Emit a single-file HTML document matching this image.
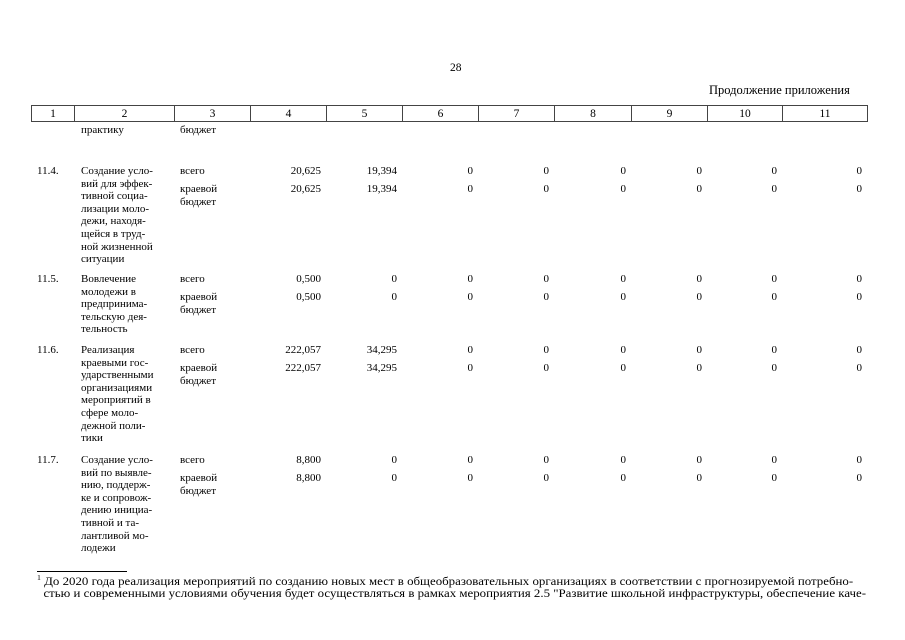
<!DOCTYPE html>
<html><head><meta charset="utf-8"><style>
body{margin:0;width:905px;height:640px;background:#fff;position:relative;font-family:"Liberation Serif","DejaVu Serif",serif;font-size:11px;color:#000;overflow:hidden}
.a{position:absolute;line-height:12.6px;white-space:nowrap}
.r{text-align:right}
table{position:absolute;left:31px;top:105px;border-collapse:collapse;height:17px}
td{border:1px solid #444;text-align:center;padding:0;font-size:11.5px;line-height:14px}
</style></head><body>
<div class="a" style="left:450px;top:62px;font-size:11.5px">28</div>
<div class="a" style="left:709px;top:84px;font-size:12.5px">Продолжение приложения</div>
<table><tr>
<td style="width:42px">1</td><td style="width:99px">2</td><td style="width:75px">3</td><td style="width:75px">4</td><td style="width:75px">5</td><td style="width:75px">6</td><td style="width:75px">7</td><td style="width:76px">8</td><td style="width:75px">9</td><td style="width:74px">10</td><td style="width:84px">11</td>
</tr></table>
<div class="a" style="left:81px;top:124px">практику</div>
<div class="a" style="left:180px;top:124px">бюджет</div>

<div id="rows"></div>
<div class="a" style="left:37px;top:165px">11.4.</div>
<div class="a" style="left:81px;top:165px">Создание усло-<br>вий для эффек-<br>тивной социа-<br>лизации моло-<br>дежи, находя-<br>щейся в труд-<br>ной жизненной<br>ситуации</div>
<div class="a" style="left:180px;top:165px">всего</div>
<div class="a" style="left:180px;top:183px">краевой<br>бюджет</div>

<div class="a" style="left:37px;top:273px">11.5.</div>
<div class="a" style="left:81px;top:273px">Вовлечение<br>молодежи в<br>предпринима-<br>тельскую дея-<br>тельность</div>
<div class="a" style="left:180px;top:273px">всего</div>
<div class="a" style="left:180px;top:291px">краевой<br>бюджет</div>

<div class="a" style="left:37px;top:344px">11.6.</div>
<div class="a" style="left:81px;top:344px">Реализация<br>краевыми гос-<br>ударственными<br>организациями<br>мероприятий в<br>сфере моло-<br>дежной поли-<br>тики</div>
<div class="a" style="left:180px;top:344px">всего</div>
<div class="a" style="left:180px;top:362px">краевой<br>бюджет</div>

<div class="a" style="left:37px;top:454px">11.7.</div>
<div class="a" style="left:81px;top:454px">Создание усло-<br>вий по выявле-<br>нию, поддерж-<br>ке и сопровож-<br>дению инициа-<br>тивной и та-<br>лантливой мо-<br>лодежи</div>
<div class="a" style="left:180px;top:454px">всего</div>
<div class="a" style="left:180px;top:472px">краевой<br>бюджет</div>

<script>
var rows=[[165,"20,625","19,394"],[183,"20,625","19,394"],[273,"0,500","0"],[291,"0,500","0"],[344,"222,057","34,295"],[362,"222,057","34,295"],[454,"8,800","0"],[472,"8,800","0"]];
var rights=[321,397,473,549,626,702,777,862];
var h="";
rows.forEach(function(r){
 var vals=[r[1],r[2],"0","0","0","0","0","0"];
 vals.forEach(function(v,i){h+='<div class="a r" style="left:'+(rights[i]-80)+'px;width:80px;top:'+r[0]+'px">'+v+'</div>';});
});
document.getElementById("rows").innerHTML=h;
</script>

<div style="position:absolute;left:37px;top:571px;width:90px;height:1px;background:#000"></div>
<div class="a" style="left:37px;top:572px;font-size:11.5px;line-height:12.5px;transform:scaleX(1.12);transform-origin:0 0"><sup style="font-size:7px">1</sup> До 2020 года реализация мероприятий по созданию новых мест в общеобразовательных организациях в соответствии с прогнозируемой потребно-<br>&nbsp; стью и современными условиями обучения будет осуществляться в рамках мероприятия 2.5 "Развитие школьной инфраструктуры, обеспечение каче-</div>
</body></html>
